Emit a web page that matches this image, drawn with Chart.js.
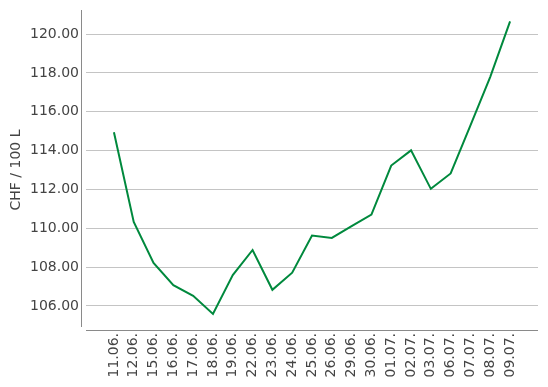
<!DOCTYPE html>
<html>
<head>
<meta charset="utf-8">
<script src="https://cdn.jsdelivr.net/npm/chart.js@4"></script>
<style>
html,body{margin:0;padding:0;background:#fff;}
#wrap{width:548px;height:387px;position:relative;}
</style>
</head>
<body>
<div id="wrap"><canvas id="c" width="548" height="387"></canvas></div>
<script>
const categories = ["11.06.","12.06.","15.06.","16.06.","17.06.","18.06.","19.06.","22.06.","23.06.","24.06.","25.06.","26.06.","29.06.","30.06.","01.07.","02.07.","03.07.","06.07.","07.07.","08.07.","09.07."];
const prices = [114.94,110.33,108.21,107.07,106.52,105.59,107.59,108.88,106.83,107.71,109.62,109.50,110.11,110.70,113.23,114.01,112.03,112.82,115.30,117.80,120.65];
const yTicks = [106,108,110,112,114,116,118,120];
const yAxisTitle = "CHF / 100 L";

const axisLines = {
  id: 'axisLines',
  afterDraw(chart) {
    const {ctx, chartArea: a} = chart;
    ctx.save();
    ctx.strokeStyle = '#8a8a8a';
    ctx.lineWidth = 1;
    ctx.beginPath();
    ctx.moveTo(a.left - 4.5, a.top);
    ctx.lineTo(a.left - 4.5, a.bottom - 3);
    ctx.moveTo(a.left, a.bottom + 0.5);
    ctx.lineTo(a.right, a.bottom + 0.5);
    ctx.stroke();
    ctx.restore();
  }
};

new Chart(document.getElementById('c'), {
  type: 'line',
  data: {
    datasets: [{
      data: prices.map((v, i) => ({x: i, y: v})),
      borderColor: '#00893d',
      borderWidth: 2,
      pointRadius: 0,
      tension: 0,
      fill: false
    }]
  },
  options: {
    responsive: false,
    animation: false,
    layout: {padding: {top: 10, right: 10, left: 0, bottom: 0}},
    plugins: {legend: {display: false}, tooltip: {enabled: false}},
    scales: {
      x: {
        type: 'linear',
        min: -1.41,
        max: categories.length - 1 + 1.41,
        afterBuildTicks(scale) { scale.ticks = categories.map((_, i) => ({value: i})); },
        afterFit(scale) { scale.height = 57; scale.paddingLeft = 0; scale.paddingRight = 0; },
        grid: {display: false, drawTicks: false},
        border: {display: false},
        ticks: {
          autoSkip: false,
          minRotation: 90,
          maxRotation: 90,
          padding: 3,
          color: '#444',
          font: {family: 'DejaVu Sans', size: 14},
          callback: (v) => categories[v] ?? ''
        }
      },
      y: {
        min: 104.76,
        max: 121.24,
        afterBuildTicks(scale) { scale.ticks = yTicks.map(v => ({value: v})); },
        afterFit(scale) { scale.width = 86; scale.paddingTop = 0; scale.paddingBottom = 0; },
        grid: {color: '#c4c4c4', drawTicks: false, lineWidth: 1},
        border: {display: false},
        ticks: {
          padding: 7,
          color: '#444',
          font: {family: 'DejaVu Sans', size: 14},
          callback: (v) => Number(v).toFixed(2)
        },
        title: {
          display: true,
          text: yAxisTitle,
          color: '#444',
          font: {family: 'DejaVu Sans', size: 14},
          padding: {top: 8, bottom: 0}
        }
      }
    }
  },
  plugins: [axisLines]
});
</script>
</body>
</html>
